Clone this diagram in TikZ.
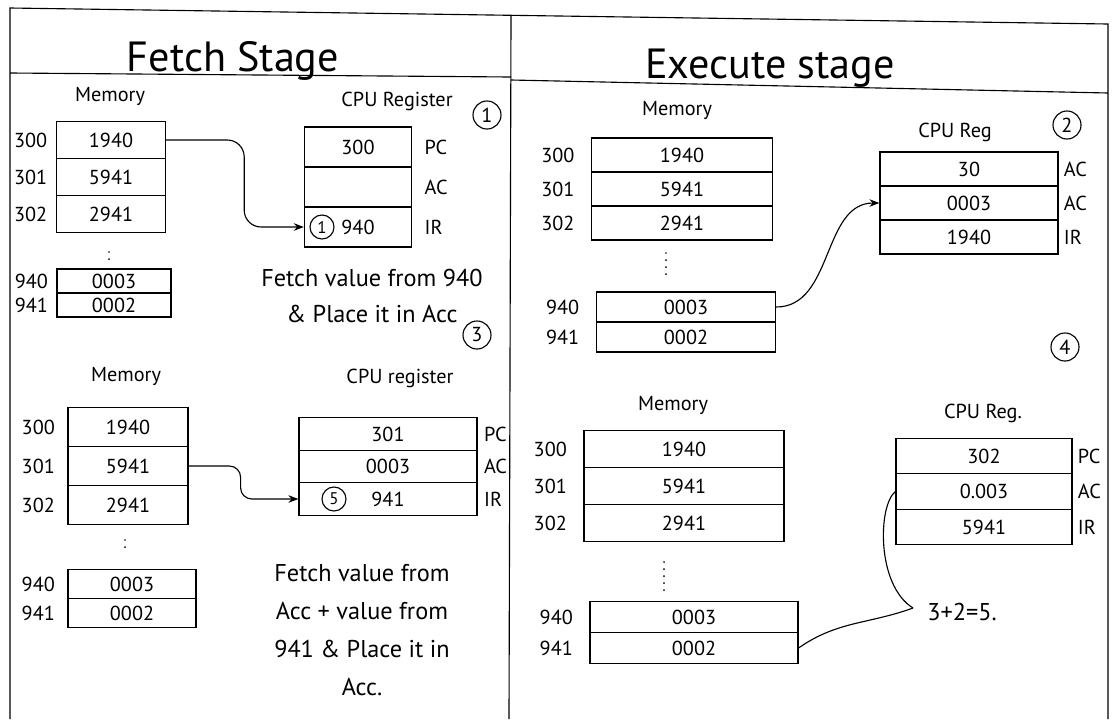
\documentclass[tikz,border=0pt]{standalone}
\usepackage{fontspec}
\setmainfont{PT Sans}
\usetikzlibrary{calc,arrows.meta,positioning}

\begin{document}
\begin{tikzpicture}[x=0.025cm, y=-0.025cm, line width=0.8pt,
  cell/.style={draw, inner sep=0pt, font=\Large},
  addr/.style={font=\Large, inner sep=0pt},
  reg/.style={font=\Large, inner sep=0pt},
  hdr/.style={font=\Large},
  ttl/.style={font=\fontsize{30}{36}\selectfont, anchor=base},
  num/.style={draw, circle, inner sep=1pt, minimum size=0.7cm, font=\Large},
  note/.style={font=\LARGE, align=center},
  dots/.style={line width=1.4pt, line cap=round, dash pattern=on 0pt off 5pt},
  arr/.style={-{Stealth[length=2.5mm]}}
]
\useasboundingbox (0,0) rectangle (1119,719);
% ---- frame
\draw (10,719) -- (10,8) -- (1108,24) -- (1108,719);
\draw (511,16) -- (509,719);
\draw (10,73) -- (511,77);
\draw (511,80) -- (1108,93);
\node[ttl] (ftitle) at (233,71) {Fetch Stage};
\node[ttl] (etitle) at (770,78) {Execute stage};
% ---- fetch stage, step 1
\node[hdr] (fmemlbl) at (110,96) {Memory};
\foreach \a/\v/\y [count=\i] in {300/1940/140, 301/5941/177, 302/2941/214} {
  \node[cell, minimum width=2.73cm, minimum height=0.92cm] (fm\i) at (111,\y) {\v};
  \node[addr, left=0.2cm of fm\i] (fma\i) {\a};
}
\draw[dots] (109,252) -- (109,263);
\foreach \a/\v/\y [count=\i] in {940/0003/281, 941/0002/305} {
  \node[cell, minimum width=2.85cm, minimum height=0.6cm] (fs\i) at (114,\y) {\v};
  \node[addr, left=0.2cm of fs\i] (fsa\i) {\a};
}
\node[hdr] (freglbl) at (397,101) {CPU Register};
\node[num] (n1) at (487,115) {1};
\foreach \v/\r/\y [count=\i] in {300/PC/147, {}/AC/187, 940/IR/227} {
  \node[cell, minimum width=2.68cm, minimum height=1cm] (fr\i) at (358,\y) {\v};
  \node[reg, right=0.3cm of fr\i] (frl\i) {\r};
}
\node[num, minimum size=0.6cm, font=\large] (n1b) at (322,227) {1};
\draw[arr, rounded corners=12pt] (fm1.east) -- ++(1.95cm,0) |- (fr3.west);
\node[note] (fnote1) at (372,296) {Fetch value from 940\\[4pt]\& Place it in Acc};
\node[num] (n3) at (477,335) {3};
% ---- fetch stage, step 2
\node[hdr] (bmemlbl) at (126,376) {Memory};
\foreach \a/\v/\y [count=\i] in {300/1940/427, 301/5941/466, 302/2941/505} {
  \node[cell, minimum width=3cm, minimum height=0.98cm] (bm\i) at (128,\y) {\v};
  \node[addr, left=0.3cm of bm\i] (bma\i) {\a};
}
\draw[dots] (125,540) -- (125,554);
\foreach \a/\v/\y [count=\i] in {940/0003/584, 941/0002/613} {
  \node[cell, minimum width=3.2cm, minimum height=0.72cm] (bs\i) at (132,\y) {\v};
  \node[addr, left=0.3cm of bs\i] (bsa\i) {\a};
}
\node[hdr] (breglbl) at (400,378) {CPU register};
\foreach \v/\r/\y [count=\i] in {301/PC/434, 0003/AC/466.5, 941/IR/499} {
  \node[cell, minimum width=4.45cm, minimum height=0.81cm] (br\i) at (388,\y) {\v};
  \node[reg, right=0.15cm of br\i] (brl\i) {\r};
}
\node[num, minimum size=0.6cm, font=\large] (n5) at (334,499) {5};
\draw[arr, rounded corners=8pt] (bm2.east) -- ++(1.3cm,0) |- (br3.west);
\node[note] (bnote) at (362,630) {Fetch value from\\[5pt]Acc + value from\\[5pt]941 \& Place it in\\[5pt]Acc.};
% ---- execute stage, step 1
\node[hdr] (emlbl) at (677,110) {Memory};
\foreach \a/\v/\y [count=\i] in {300/1940/155, 301/5941/189, 302/2941/223} {
  \node[cell, minimum width=4.52cm, minimum height=0.85cm] (em\i) at (682,\y) {\v};
  \node[addr, left=0.4cm of em\i] (ema\i) {\a};
}
\draw[dots] (666,253) -- (666,278);
\foreach \a/\v/\y [count=\i] in {940/0003/307, 941/0002/337} {
  \node[cell, minimum width=4.48cm, minimum height=0.75cm] (es\i) at (686,\y) {\v};
  \node[addr, left=0.4cm of es\i] (esa\i) {\a};
}
\node[hdr] (ereglbl) at (955,132) {CPU Reg};
\node[num] (n2) at (1067,125) {2};
\foreach \v/\r/\y [count=\i] in {30/AC/169, 0003/AC/203, 1940/IR/237} {
  \node[cell, minimum width=4.45cm, minimum height=0.85cm] (er\i) at (969,\y) {\v};
  \node[reg, right=0.12cm of er\i] (erl\i) {\r};
}
\draw[arr] (es1.east) to[out=0, in=180] (er2.west);
\node[num] (n4) at (1065,347) {4};
% ---- execute stage, step 2
\node[hdr] (xmlbl) at (673,405) {Memory};
\foreach \a/\v/\y [count=\i] in {300/1940/449, 301/5941/486, 302/2941/523} {
  \node[cell, minimum width=5cm, minimum height=0.93cm] (xm\i) at (684,\y) {\v};
  \node[addr, left=0.4cm of xm\i] (xma\i) {\a};
}
\draw[dots] (664,562) -- (664,592);
\foreach \a/\v/\y [count=\i] in {940/0003/617, 941/0002/648} {
  \node[cell, minimum width=5.2cm, minimum height=0.76cm] (xs\i) at (694,\y) {\v};
  \node[addr, left=0.4cm of xs\i] (xsa\i) {\a};
}
\node[hdr] (xreglbl) at (983,413) {CPU Reg.};
\foreach \v/\r/\y [count=\i] in {302/PC/456, 0.003/AC/491.5, 5941/IR/527} {
  \node[cell, minimum width=4.4cm, minimum height=0.89cm] (xr\i) at (984,\y) {\v};
  \node[reg, right=0.12cm of xr\i] (xrl\i) {\r};
}
\coordinate (sumpt) at (913,608);
\node[note, anchor=west] (sum) at (922,612) {3+2=5.};
\draw (xs2.east) to[out=35, in=200] (sumpt);
\draw (xr2.west) .. controls (878,505) and (876,585) .. (sumpt);
\end{tikzpicture}
\end{document}
